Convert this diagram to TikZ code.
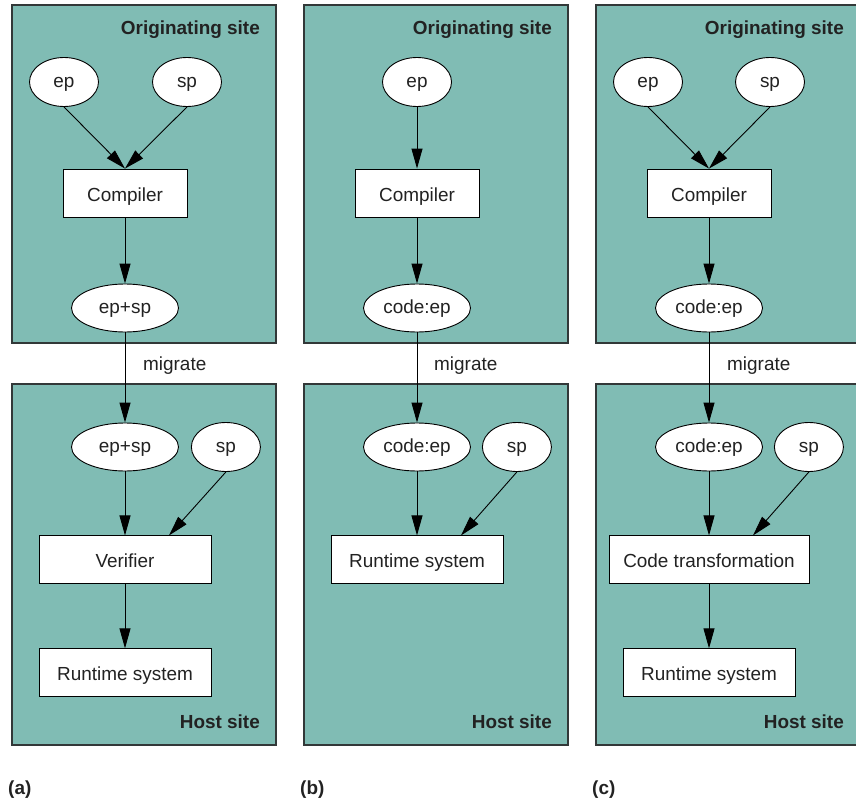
\documentclass[tikz,border=0pt]{standalone}
\usepackage{fontspec}
\setmainfont{Liberation Sans}
\usetikzlibrary{positioning, arrows.meta, shapes.geometric}
\definecolor{sitefill}{RGB}{128,188,180}
\definecolor{siteline}{RGB}{50,56,56}
\definecolor{inktext}{RGB}{34,34,34}
\newcommand{\figsize}{\fontsize{19}{22}\selectfont}

\begin{document}
\begin{tikzpicture}[x=1bp, y=-1bp,
  site/.style={draw=siteline, fill=sitefill, line width=1.3bp},
  oval/.style={draw, ellipse, fill=white, line width=0.9bp, minimum width=69bp, minimum height=49bp, inner sep=0pt, font=\figsize, text=inktext, text height=10bp, text depth=0pt},
  wideoval/.style={oval, minimum width=107bp, minimum height=48bp},
  box/.style={draw, fill=white, line width=0.9bp, minimum height=48bp, inner sep=0pt, font=\figsize, text=inktext, text height=16bp, text depth=0pt},
  arr/.style={-{Triangle[length=20bp, width=11bp]}, line width=0.9bp},
  title/.style={font=\bfseries\figsize, anchor=base east, inner sep=0pt, text=inktext},
  lbl/.style={font=\figsize, anchor=base west, inner sep=0pt, text=inktext}]
\clip (0,0) rectangle (856,801);
\fill[white] (0,0) rectangle (856,801);
% site backgrounds and captions
\foreach \x/\c in {12/a, 304/b, 596/c} {
  \draw[site] (\x,5) rectangle ++(264,338);
  \draw[site] (\x,384) rectangle ++(264,361);
  \node[font=\bfseries\figsize, anchor=base west, inner sep=0pt, text=inktext] (cap-\c) at (\x-4,794) {(\c)};
}

% (a) verifier
\begin{scope}[xshift=0bp]
\node[title] (a-orig) at (260,35) {Originating site};
\node[title] (a-host) at (260,728) {Host site};
\node[oval] (a-ep) at (64,82) {ep};
\node[oval] (a-sp) at (187,82) {sp};
\node[box, minimum width=124bp] (a-comp) at (125,193) {Compiler};
\node[wideoval] (a-out) at (125,308) {ep+sp};
\node[wideoval] (a-in) at (125,447) {ep+sp};
\node[oval, right=12bp of a-in] (a-sp2) {sp};
\node[box, minimum width=172bp, below=64bp of a-in] (a-ver) {Verifier};
\node[box, minimum width=172bp, below=64bp of a-ver] (a-rt) {Runtime system};
\node[lbl] (a-mig) at (143,370) {migrate};
\draw[arr] (a-ep.south) -- (a-comp.north);
\draw[arr] (a-sp.south) -- (a-comp.north);
\draw[arr] (a-comp) -- (a-out);
\draw[arr] (a-out) -- (a-in);
\draw[arr] (a-in) -- (a-ver);
\draw[arr] (a-sp2.south) -- ([xshift=44bp]a-ver.north);
\draw[arr] (a-ver) -- (a-rt);
\end{scope}

% (b) runtime only
\begin{scope}[xshift=292bp]
\node[title] (b-orig) at (260,35) {Originating site};
\node[title] (b-host) at (260,728) {Host site};
\node[oval] (b-ep) at (125,82) {ep};
\node[box, minimum width=124bp] (b-comp) at (125,193) {Compiler};
\node[wideoval] (b-out) at (125,308) {code:ep};
\node[wideoval] (b-in) at (125,447) {code:ep};
\node[oval, right=11bp of b-in] (b-sp2) {sp};
\node[box, minimum width=172bp, below=64bp of b-in] (b-rt) {Runtime system};
\node[lbl] (b-mig) at (142,370) {migrate};
\draw[arr] (b-ep) -- (b-comp);
\draw[arr] (b-comp) -- (b-out);
\draw[arr] (b-out) -- (b-in);
\draw[arr] (b-in) -- (b-rt);
\draw[arr] (b-sp2.south) -- ([xshift=44bp]b-rt.north);
\end{scope}

% (c) code transformation
\begin{scope}[xshift=584bp]
\node[title] (c-orig) at (260,35) {Originating site};
\node[title] (c-host) at (260,728) {Host site};
\node[oval] (c-ep) at (64,82) {ep};
\node[oval] (c-sp) at (186,82) {sp};
\node[box, minimum width=124bp] (c-comp) at (125,193) {Compiler};
\node[wideoval] (c-out) at (125,308) {code:ep};
\node[wideoval] (c-in) at (125,447) {code:ep};
\node[oval, right=11bp of c-in] (c-sp2) {sp};
\node[box, minimum width=200bp, below=64bp of c-in] (c-tr) {Code transformation};
\node[box, minimum width=172bp, below=64bp of c-tr] (c-rt) {Runtime system};
\node[lbl] (c-mig) at (143,370) {migrate};
\draw[arr] (c-ep.south) -- (c-comp.north);
\draw[arr] (c-sp.south) -- (c-comp.north);
\draw[arr] (c-comp) -- (c-out);
\draw[arr] (c-out) -- (c-in);
\draw[arr] (c-in) -- (c-tr);
\draw[arr] (c-sp2.south) -- ([xshift=44bp]c-tr.north);
\draw[arr] (c-tr) -- (c-rt);
\end{scope}
\end{tikzpicture}
\end{document}
